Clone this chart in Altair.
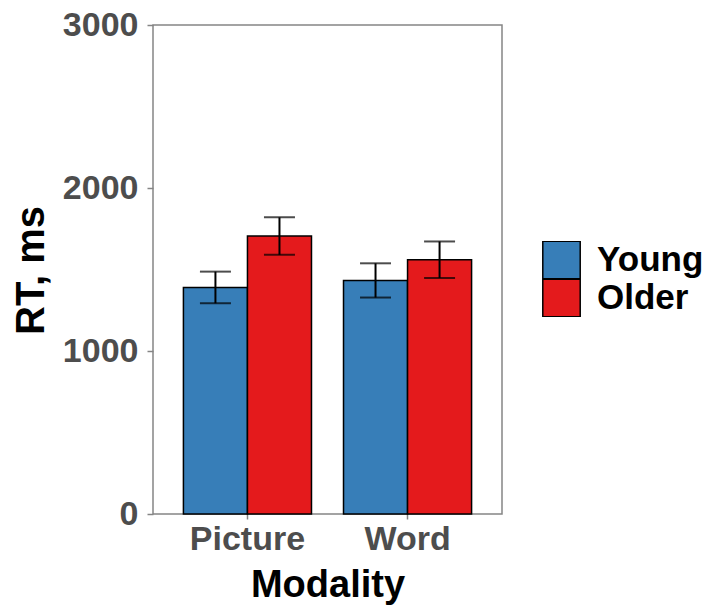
import altair as alt
import pandas as pd

# Mean reaction times (ms) with error half-widths, by modality and age group
modality = ["Picture", "Picture", "Word", "Word"]
group = ["Young", "Older", "Young", "Older"]
rt = [1390, 1705, 1433, 1560]
err = [97, 115, 105, 112]

df = pd.DataFrame({"Modality": modality, "Group": group, "RT": rt, "Err": err})
df["Lo"] = df["RT"] - df["Err"]
df["Hi"] = df["RT"] + df["Err"]

FONT = "Liberation Sans"
GREY = "#858585"
mod_order = ["Picture", "Word"]
grp_order = ["Young", "Older"]

x_enc = alt.X(
    "Modality:N",
    sort=mod_order,
    scale=alt.Scale(paddingInner=0.2, paddingOuter=0.19),
    axis=alt.Axis(
        title="Modality",
        labelAngle=0,
        labelFontSize=34,
        labelFontWeight="bold",
        labelColor="#4D4D4D",
        labelFont=FONT,
        labelPadding=3,
        tickSize=5,
        tickColor=GREY,
        tickWidth=1.5,
        domain=False,
        titleFontSize=38,
        titleFontWeight="bold",
        titleFont=FONT,
        titleColor="black",
        titleBaseline="alphabetic",
        titleY=82,
    ),
)
off_enc = alt.XOffset("Group:N", sort=grp_order, scale=alt.Scale(paddingInner=0, paddingOuter=0))

y_scale = alt.Scale(domain=[0, 3000], nice=False)
y_axis = alt.Axis(
    title="RT, ms",
    values=[0, 1000, 2000, 3000],
    format="d",
    grid=False,
    domain=False,
    labelFontSize=34,
    labelFontWeight="bold",
    labelColor="#4D4D4D",
    labelFont=FONT,
    labelPadding=9,
    tickSize=6,
    tickColor=GREY,
    tickWidth=1.5,
    titleFontSize=40,
    titleFontWeight="bold",
    titleFont=FONT,
    titleColor="black",
    titleBaseline="alphabetic",
    titleAngle=-90,
    titleX=-110,
    titleY=245,
)

base = alt.Chart(df).encode(x=x_enc, xOffset=off_enc)

bars = base.mark_bar(stroke="black", strokeWidth=1.5).encode(
    y=alt.Y("RT:Q", scale=y_scale, axis=y_axis),
    color=alt.Color(
        "Group:N",
        sort=grp_order,
        scale=alt.Scale(domain=grp_order, range=["#377EB8", "#E41A1C"]),
        legend=alt.Legend(
            title=None,
            orient="none",
            legendX=389,
            legendY=216,
            padding=0,
            symbolType="square",
            symbolSize=1400,
            symbolStrokeColor="black",
            symbolStrokeWidth=1.5,
            symbolOpacity=1,
            labelFontSize=35,
            labelFontWeight="bold",
            labelFont=FONT,
            labelColor="black",
            labelOffset=16,
            rowPadding=0,
            clipHeight=38,
        ),
    ),
)

stems = base.mark_rule(color="black", strokeWidth=2).encode(
    y=alt.Y("Lo:Q", scale=y_scale), y2="Hi:Q"
)
caps_hi = base.mark_tick(color="black", thickness=2, size=31, orient="horizontal").encode(
    y=alt.Y("Hi:Q", scale=y_scale)
)
caps_lo = base.mark_tick(color="black", thickness=2, size=31, orient="horizontal").encode(
    y=alt.Y("Lo:Q", scale=y_scale)
)

chart = (
    alt.layer(bars, stems, caps_hi, caps_lo)
    .properties(
        width=349,
        height=489,
        autosize=alt.AutoSizeParams(type="none"),
        padding={"left": 153, "top": 25, "right": 224, "bottom": 96},
        background="white",
    )
    .configure_view(stroke=GREY, strokeWidth=1.5)
)

chart.save("out.html", embed_options={"renderer": "svg", "actions": False})
